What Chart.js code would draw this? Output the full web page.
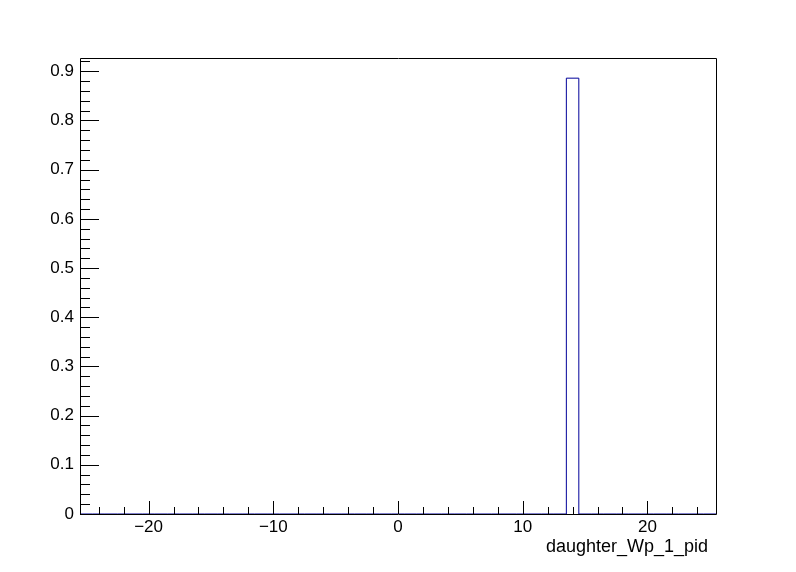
<!DOCTYPE html>
<html>
<head>
<meta charset="utf-8">
<script src="https://cdn.jsdelivr.net/npm/chart.js@4.4.0/dist/chart.umd.min.js"></script>
<style>
html, body { margin: 0; padding: 0; background: #fff; }
</style>
</head>
<body>
<canvas id="c" width="796" height="572"></canvas>
<script>
// histogram bins (width 1, centred on integers)
var binCenters = [-25, -24, -23, -22, -21, -20, -19, -18, -17, -16, -15, -14, -13, -12, -11, -10, -9, -8, -7, -6, -5, -4, -3, -2, -1,
    0, 1, 2, 3, 4, 5, 6, 7, 8, 9, 10, 11, 12, 13, 14, 15, 16, 17, 18, 19, 20, 21, 22, 23, 24, 25];
var binContents = [0, 0, 0, 0, 0, 0, 0, 0, 0, 0, 0, 0, 0, 0, 0, 0, 0, 0, 0, 0, 0, 0, 0, 0, 0,
    0, 0, 0, 0, 0, 0, 0, 0, 0, 0, 0, 0, 0, 0, 0.886, 0, 0, 0, 0, 0, 0, 0, 0, 0, 0, 0];
var xTicks = [-20, -10, 0, 10, 20];
var yTicks = [0, 0.1, 0.2, 0.3, 0.4, 0.5, 0.6, 0.7, 0.8, 0.9];
var xTitle = 'daughter_Wp_1_pid';

var FONT = 'Liberation Sans, Arial, Helvetica, sans-serif';

// step outline from bin edges
var outline = [];
for (var i = 0; i < binCenters.length; i++) {
    outline.push({ x: binCenters[i] - 0.5, y: binContents[i] });
}
outline.push({ x: binCenters[binCenters.length - 1] + 0.5, y: 0 });

// ROOT style frame + inward tick marks
var rootFrame = {
    id: 'rootFrame',
    afterDraw: function(chart) {
        var ctx = chart.ctx;
        var a = chart.chartArea;
        var xs = chart.scales.x, ys = chart.scales.y;
        ctx.save();
        ctx.strokeStyle = '#000';
        ctx.lineWidth = 1;
        ctx.beginPath();
        ctx.rect(Math.round(a.left) + 0.5, Math.round(a.top) + 0.5,
                 Math.round(a.right - a.left), Math.round(a.bottom - a.top));
        ctx.stroke();

        ctx.beginPath();
        // x ticks: major every 10, minor every 2
        for (var v = -24; v <= 24; v += 2) {
            var px = Math.round(xs.getPixelForValue(v)) + 0.5;
            var len = (v % 10 === 0) ? 13 : 7;
            ctx.moveTo(px, a.bottom);
            ctx.lineTo(px, a.bottom - len);
        }
        // y ticks: major every 0.1, minor every 0.02
        for (var k = 0; k <= 46; k++) {
            var val = k * 0.02;
            if (val > ys.max) break;
            var py = Math.round(ys.getPixelForValue(val)) + 0.5;
            var l = (k % 5 === 0) ? 19 : 10;
            ctx.moveTo(a.left, py);
            ctx.lineTo(a.left + l, py);
        }
        ctx.stroke();

        ctx.fillStyle = '#000';
        ctx.font = '18px ' + FONT;
        ctx.textAlign = 'right';
        ctx.textBaseline = 'alphabetic';
        ctx.fillText(xTitle, a.right - 8, a.bottom + 38);
        ctx.restore();
    }
};

new Chart(document.getElementById('c'), {
    type: 'line',
    data: {
        datasets: [{
            data: outline,
            borderColor: '#000099',
            borderWidth: 1,
            pointRadius: 0,
            fill: false,
            stepped: 'before'
        }]
    },
    options: {
        responsive: false,
        animation: false,
        events: [],
        layout: { padding: { top: 58, right: 80, left: 0, bottom: 0 } },
        plugins: {
            legend: { display: false },
            tooltip: { enabled: false }
        },
        scales: {
            x: {
                type: 'linear',
                min: -25.5,
                max: 25.5,
                grid: { display: false, drawTicks: false },
                border: { display: false },
                afterBuildTicks: function(s) {
                    s.ticks = xTicks.map(function(v) { return { value: v }; });
                },
                afterFit: function(s) { s.height = 58; },
                ticks: {
                    autoSkip: false,
                    maxRotation: 0,
                    padding: 3,
                    color: '#000',
                    font: { family: FONT, size: 17 },
                    callback: function(v) { return v < 0 ? '\u2212' + Math.abs(v) : String(v); }
                }
            },
            y: {
                min: 0,
                max: 0.927,
                grid: { display: false, drawTicks: false },
                border: { display: false },
                afterBuildTicks: function(s) {
                    s.ticks = yTicks.map(function(v) { return { value: v }; });
                },
                afterFit: function(s) { s.width = 80; },
                ticks: {
                    autoSkip: false,
                    padding: 6,
                    color: '#000',
                    font: { family: FONT, size: 17 },
                    callback: function(v) { return v === 0 ? '0' : v.toFixed(1); }
                }
            }
        }
    },
    plugins: [rootFrame]
});
</script>
</body>
</html>
